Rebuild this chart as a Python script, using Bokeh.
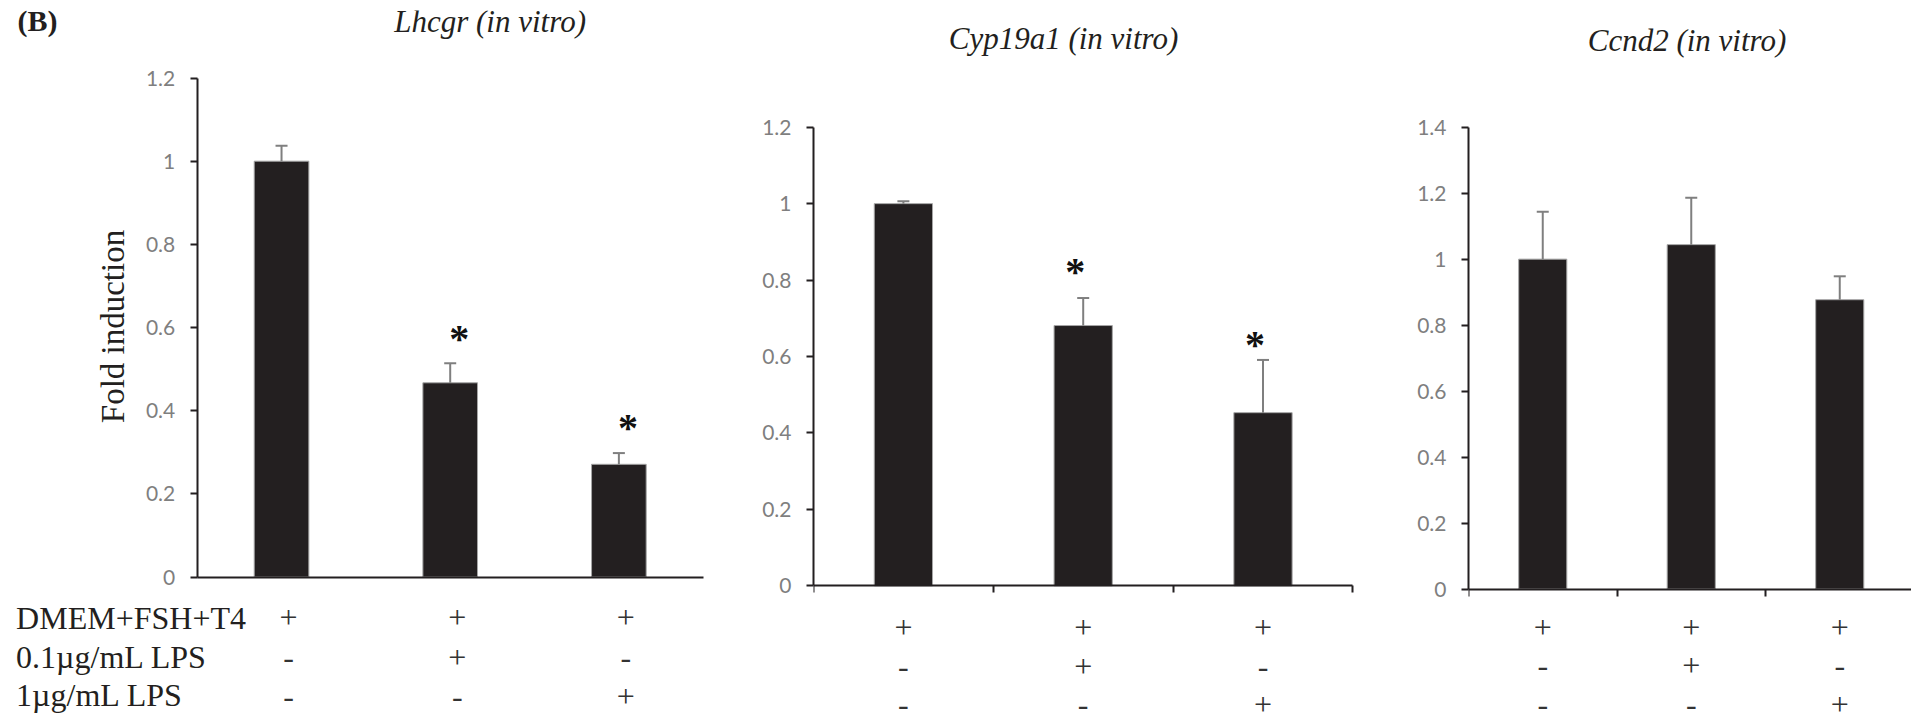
import math
from bokeh.plotting import figure
from bokeh.layouts import row
from bokeh.models import (ColumnDataSource, FixedTicker, Whisker, TeeHead, LabelSet,
                          Range1d, CustomLabelingPolicy)
from bokeh.core.properties import value
from bokeh.embed import file_html
from bokeh.resources import INLINE

# ---------------- data ----------------
conditions = ["DMEM+FSH+T4", "0.1\u00b5g/mL LPS", "1\u00b5g/mL LPS"]
treatment_marks = [["+", "+", "+"],
                   ["-", "+", "-"],
                   ["-", "-", "+"]]
panel_tag = "(B)"
y_axis_label = "Fold induction"

titles = ["Lhcgr (in vitro)", "Cyp19a1 (in vitro)", "Ccnd2 (in vitro)"]

lhcgr_mean = [1.0, 0.467, 0.271]
lhcgr_sem = [0.037, 0.047, 0.027]
lhcgr_star = [None, 0.584, 0.368]

cyp19a1_mean = [1.0, 0.681, 0.453]
cyp19a1_sem = [0.006, 0.072, 0.138]
cyp19a1_star = [None, 0.834, 0.642]

ccnd2_mean = [1.0, 1.044, 0.877]
ccnd2_sem = [0.144, 0.142, 0.071]
ccnd2_star = [None, None, None]

ticks_12 = [0, 0.2, 0.4, 0.6, 0.8, 1.0, 1.2]
tick_labels_12 = ["0", "0.2", "0.4", "0.6", "0.8", "1", "1.2"]
ticks_14 = [0, 0.2, 0.4, 0.6, 0.8, 1.0, 1.2, 1.4]
tick_labels_14 = ["0", "0.2", "0.4", "0.6", "0.8", "1", "1.2", "1.4"]

# ---------------- style / layout ----------------
H = 717
TOP = 10
BAR = "#231f20"
AX = "#231f20"
GREY = "#7f7f7f"
SERIF = "Liberation Serif"
SANS = "Lato"


def no_labels():
    return CustomLabelingPolicy(code="return []")


def make_panel(means, sems, stars, ticks, fig_w, border_left, cat_px, axis_x_px,
               zero_px, top_px, native_y_labels, cat_ticks, star_dx):
    n = len(means)
    xs = [i + 0.5 for i in range(n)]
    frame_w = fig_w - border_left
    x0 = -(axis_x_px - border_left) / cat_px
    x1 = x0 + frame_w / cat_px
    ymax = ticks[-1]
    ppu = (zero_px - top_px) / ymax
    y0 = -(H - zero_px) / ppu
    y1 = (zero_px - TOP) / ppu

    p = figure(width=fig_w, height=H, x_range=Range1d(x0, x1),
               y_range=Range1d(y0, y1), output_backend="svg",
               toolbar_location=None, title=None, x_axis_location="above",
               min_border=0, min_border_left=border_left, min_border_right=0,
               min_border_top=TOP, min_border_bottom=0)
    p.outline_line_color = None
    p.grid.visible = False
    p.background_fill_color = "white"
    p.border_fill_color = "white"

    src = ColumnDataSource(dict(x=xs, mean=means,
                                top=[m + s for m, s in zip(means, sems)]))
    p.vbar(x="x", top="mean", bottom=0, width=0.324, source=src,
           fill_color=BAR, line_color="#a6a6a6", line_width=1)
    p.add_layout(Whisker(source=src, base="x", lower="mean", upper="top",
                         dimension="height", line_color=GREY, line_width=2,
                         upper_head=TeeHead(size=12, line_color=GREY, line_width=2),
                         lower_head=None, level="glyph"))

    sx = [x for x, s in zip(xs, stars) if s is not None]
    sy = [s for s in stars if s is not None]
    if sx:
        ssrc = ColumnDataSource(dict(x=sx, y=sy, t=["*"] * len(sx)))
        p.add_layout(LabelSet(x="x", y="y", text="t", source=ssrc,
                              x_offset=star_dx, y_offset=-4,
                              text_font=value(SERIF), text_font_style="bold",
                              text_font_size="40px", text_color="#111111",
                              text_align="center", text_baseline="middle"))

    # y axis
    yax = p.yaxis[0]
    yax.ticker = FixedTicker(ticks=ticks)
    yax.bounds = (0, ymax)
    yax.major_tick_out = 7
    yax.major_tick_in = 0
    yax.minor_tick_line_color = None
    yax.axis_line_color = AX
    yax.axis_line_width = 2
    yax.major_tick_line_color = AX
    yax.major_tick_line_width = 2
    yax.major_label_text_font = SANS
    yax.major_label_text_font_size = "21px"
    yax.major_label_text_color = GREY
    yax.major_label_standoff = 15
    if native_y_labels:
        yax.major_label_overrides = dict(zip(ticks, native_y_labels))
    else:
        # axis drawn at x=0 inside the frame; its tick labels are drawn separately
        yax.fixed_location = 0
        yax.major_label_policy = no_labels()
        yax.major_label_standoff = 0

    # x axis (drawn at y = 0)
    xax = p.xaxis[0]
    xax.fixed_location = 0
    xax.bounds = (0, n)
    xax.ticker = FixedTicker(ticks=cat_ticks)
    xax.major_label_policy = no_labels()
    xax.major_label_standoff = 0
    xax.major_tick_out = 0
    xax.major_tick_in = 7
    xax.minor_tick_line_color = None
    xax.axis_line_color = AX
    xax.axis_line_width = 2
    xax.major_tick_line_color = AX
    xax.major_tick_line_width = 2
    return p, xs


def page_text(p, border_left, px, py, text, angle=0.0, font=SERIF, size="32px",
              style="normal", color="#231f20", align="left"):
    s = ColumnDataSource(dict(x=[px - border_left], y=[H - py], t=[text]))
    p.add_layout(LabelSet(x="x", y="y", text="t", source=s, x_units="screen",
                          y_units="screen", angle=angle, text_font=value(font),
                          text_font_size=size, text_font_style=style,
                          text_color=color, text_align=align,
                          text_baseline="alphabetic"))


def add_marks(p, xs, rows_px, dx):
    mx, my, mt = [], [], []
    for r, marks in enumerate(treatment_marks):
        for c, m in enumerate(marks):
            mx.append(xs[c])
            my.append(H - rows_px[r])
            mt.append(m)
    msrc = ColumnDataSource(dict(x=mx, y=my, t=mt))
    p.add_layout(LabelSet(x="x", y="y", text="t", source=msrc, x_units="data",
                          y_units="screen", x_offset=dx, text_font=value(SERIF),
                          text_font_size="32px", text_color="#333333",
                          text_align="center", text_baseline="alphabetic"))


# ---- panel 1 (page x 0..740) ----
BL1 = 12
p1, xs1 = make_panel(lhcgr_mean, lhcgr_sem, lhcgr_star, ticks_12, 740, BL1,
                     168.67, 196.7, 576.5, 77.5, None, [], 9)
tsrc = ColumnDataSource(dict(x=[0] * len(ticks_12), y=ticks_12, t=tick_labels_12))
p1.add_layout(LabelSet(x="x", y="y", text="t", source=tsrc, x_offset=-22,
                       text_font=value(SANS), text_font_size="21px",
                       text_color=GREY, text_align="right", text_baseline="middle"))
page_text(p1, BL1, 123, 326, y_axis_label, angle=math.pi / 2, size="33px",
          align="center")
page_text(p1, BL1, 489.6, 31, titles[0], style="italic", size="31px", align="center")
page_text(p1, BL1, 17, 30, panel_tag, style="bold", size="30px")
for r, name in enumerate(conditions):
    page_text(p1, BL1, 15.6, [628, 667, 705][r], name, size="32px")
add_marks(p1, xs1, [627, 667, 706], 7)

# ---- panel 2 (page x 740..1400) ----
BL2 = 73
p2, xs2 = make_panel(cyp19a1_mean, cyp19a1_sem, cyp19a1_star, ticks_12, 660, BL2,
                     179.8, 73, 585.3, 126.7, tick_labels_12, [0, 1, 2, 3], -8)
page_text(p2, BL2, 1063 - 740, 48, titles[1], style="italic", size="31px",
          align="center")
add_marks(p2, xs2, [637, 676, 714], 0)

# ---- panel 3 (page x 1400..1911) ----
BL3 = 68
p3, xs3 = make_panel(ccnd2_mean, ccnd2_sem, ccnd2_star, ticks_14, 511, BL3,
                     148.5, 68, 588.5, 126.7, tick_labels_14, [0, 1, 2, 3], 0)
page_text(p3, BL3, 1686.5 - 1400, 50, titles[2], style="italic", size="31px",
          align="center")
add_marks(p3, xs3, [637, 675, 714], 0)

layout = row(p1, p2, p3, spacing=0)
html = file_html(layout, INLINE)
html = html.replace("<head>", "<head><style>html,body{margin:0;padding:0;}</style>", 1)
open("out.html", "w").write(html)
